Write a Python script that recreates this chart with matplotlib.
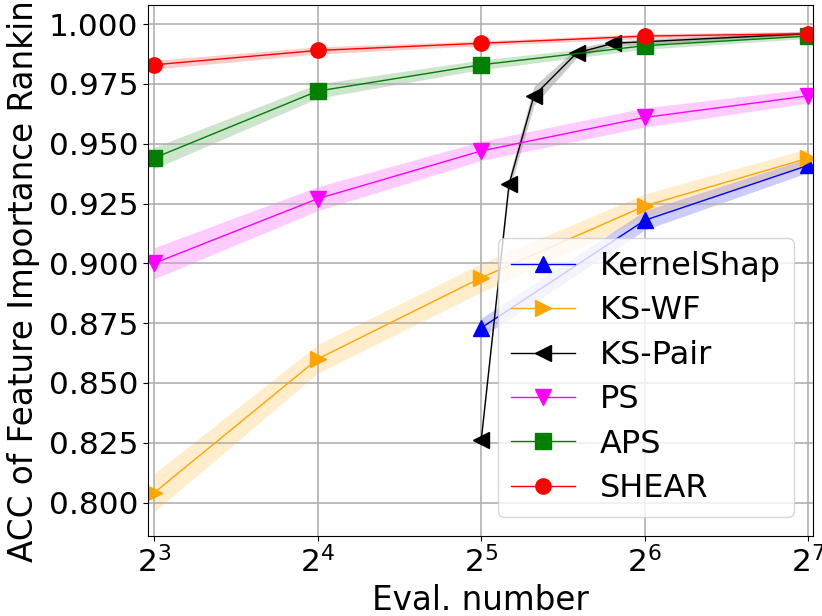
import numpy as np
import matplotlib
matplotlib.use('Agg')
import matplotlib.pyplot as plt

evals = [8, 16, 32, 64, 128]
ks_x = [32, 64, 128]
pair_x = [32, 36, 40, 48, 56, 128]

kernelshap = [0.873, 0.918, 0.941]
kernelshap_std = [0.004, 0.004, 0.003]
kswf = [0.804, 0.860, 0.894, 0.924, 0.944]
kswf_std = [0.008, 0.006, 0.006, 0.005, 0.004]
kspair = [0.826, 0.933, 0.970, 0.988, 0.992, 0.996]
kspair_std = [0.001, 0.003, 0.004, 0.002, 0.001, 0.001]
ps = [0.900, 0.927, 0.947, 0.961, 0.970]
ps_std = [0.0065, 0.005, 0.004, 0.004, 0.003]
aps = [0.944, 0.972, 0.983, 0.991, 0.995]
aps_std = [0.0045, 0.003, 0.002, 0.0015, 0.001]
shear = [0.983, 0.989, 0.992, 0.995, 0.996]
shear_std = [0.0018, 0.0015, 0.001, 0.001, 0.001]

series = [
    ('KernelShap', ks_x, kernelshap, kernelshap_std, 'blue', '^'),
    ('KS-WF', evals, kswf, kswf_std, 'orange', '>'),
    ('KS-Pair', pair_x, kspair, kspair_std, 'black', '<'),
    ('PS', evals, ps, ps_std, 'magenta', 'v'),
    ('APS', evals, aps, aps_std, 'green', 's'),
    ('SHEAR', evals, shear, shear_std, 'red', 'o'),
]

fig = plt.figure(figsize=(8.22, 6.16), dpi=100)
ax = fig.add_axes([148/822, 80/616, 665/822, 531/616])

for name, x, y, s, c, m in series:
    y = np.array(y)
    s = np.array(s)
    ax.plot(x, y, color=c, marker=m, markersize=11, linewidth=1, label=name)
    ax.fill_between(x, y - s, y + s, color=c, alpha=0.2, linewidth=0)

ax.set_xscale('log', base=2)
ax.set_xticks([8, 16, 32, 64, 128])
ax.set_xlim(7.8, 130.5)
ax.set_ylim(0.786, 1.008)
ax.set_yticks([0.8, 0.825, 0.85, 0.875, 0.9, 0.925, 0.95, 0.975, 1.0])
ax.grid(True, color='#b0b0b0', linewidth=1.2)
ax.tick_params(labelsize=22.5)
ax.set_xlabel('Eval. number', fontsize=23.5)
ax.set_ylabel('ACC of Feature Importance Ranking', fontsize=23.5, labelpad=6)
ax.legend(loc='lower right', fontsize=23, labelspacing=0.42, borderaxespad=0.6)

fig.savefig('out.png', dpi=100)
